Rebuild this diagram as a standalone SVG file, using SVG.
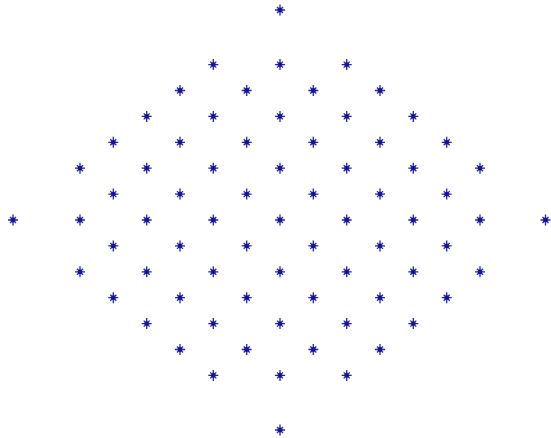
<svg xmlns="http://www.w3.org/2000/svg" xmlns:xlink="http://www.w3.org/1999/xlink" width="551" height="438" viewBox="0 0 551 438">
<defs>
<style>
.m{stroke:#2222a4;stroke-width:1.3;fill:none}
.d{fill:#14149c}
</style>
<g id="star">
<path class="m" d="M-5,0H5M0,-5.5V5.5M-3,-3L3,3M-3,3L3,-3"/>
<circle class="d" r="2.4"/>
</g>
</defs>
<rect width="551" height="438" fill="#ffffff"/>
<g id="points">
<use href="#star" x="280" y="10"/>
<use href="#star" x="213.3" y="64.6"/><use href="#star" x="280" y="64.6"/><use href="#star" x="346.7" y="64.6"/>
<use href="#star" x="180" y="90.5"/><use href="#star" x="246.7" y="90.5"/><use href="#star" x="313.3" y="90.5"/><use href="#star" x="380" y="90.5"/>
<use href="#star" x="146.7" y="116.4"/><use href="#star" x="213.3" y="116.4"/><use href="#star" x="280" y="116.4"/><use href="#star" x="346.7" y="116.4"/><use href="#star" x="413.3" y="116.4"/>
<use href="#star" x="113.3" y="142.3"/><use href="#star" x="180" y="142.3"/><use href="#star" x="246.7" y="142.3"/><use href="#star" x="313.3" y="142.3"/><use href="#star" x="380" y="142.3"/><use href="#star" x="446.7" y="142.3"/>
<use href="#star" x="80" y="168.2"/><use href="#star" x="146.7" y="168.2"/><use href="#star" x="213.3" y="168.2"/><use href="#star" x="280" y="168.2"/><use href="#star" x="346.7" y="168.2"/><use href="#star" x="413.3" y="168.2"/><use href="#star" x="480" y="168.2"/>
<use href="#star" x="113.3" y="194.1"/><use href="#star" x="180" y="194.1"/><use href="#star" x="246.7" y="194.1"/><use href="#star" x="313.3" y="194.1"/><use href="#star" x="380" y="194.1"/><use href="#star" x="446.7" y="194.1"/>
<use href="#star" x="13" y="220"/><use href="#star" x="80" y="220"/><use href="#star" x="146.7" y="220"/><use href="#star" x="213.3" y="220"/><use href="#star" x="280" y="220"/><use href="#star" x="346.7" y="220"/><use href="#star" x="413.3" y="220"/><use href="#star" x="480" y="220"/><use href="#star" x="545.5" y="220"/>
<use href="#star" x="113.3" y="245.9"/><use href="#star" x="180" y="245.9"/><use href="#star" x="246.7" y="245.9"/><use href="#star" x="313.3" y="245.9"/><use href="#star" x="380" y="245.9"/><use href="#star" x="446.7" y="245.9"/>
<use href="#star" x="80" y="271.8"/><use href="#star" x="146.7" y="271.8"/><use href="#star" x="213.3" y="271.8"/><use href="#star" x="280" y="271.8"/><use href="#star" x="346.7" y="271.8"/><use href="#star" x="413.3" y="271.8"/><use href="#star" x="480" y="271.8"/>
<use href="#star" x="113.3" y="297.7"/><use href="#star" x="180" y="297.7"/><use href="#star" x="246.7" y="297.7"/><use href="#star" x="313.3" y="297.7"/><use href="#star" x="380" y="297.7"/><use href="#star" x="446.7" y="297.7"/>
<use href="#star" x="146.7" y="323.6"/><use href="#star" x="213.3" y="323.6"/><use href="#star" x="280" y="323.6"/><use href="#star" x="346.7" y="323.6"/><use href="#star" x="413.3" y="323.6"/>
<use href="#star" x="180" y="349.5"/><use href="#star" x="246.7" y="349.5"/><use href="#star" x="313.3" y="349.5"/><use href="#star" x="380" y="349.5"/>
<use href="#star" x="213.3" y="375.4"/><use href="#star" x="280" y="375.4"/><use href="#star" x="346.7" y="375.4"/>
<use href="#star" x="280" y="430"/>
</g>
</svg>
